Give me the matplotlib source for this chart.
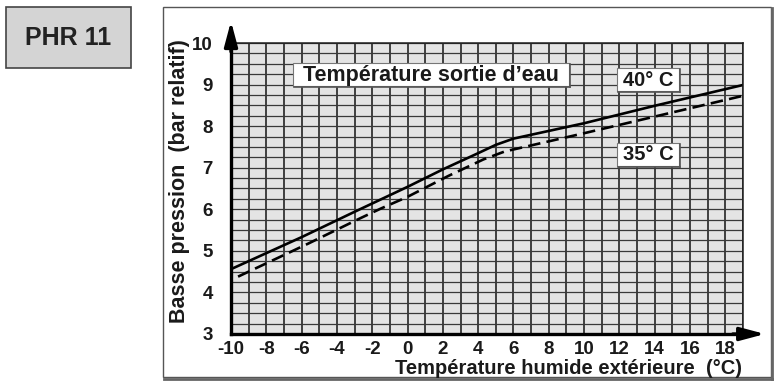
import matplotlib
matplotlib.use("Agg")
import matplotlib.pyplot as plt
import numpy as np
from matplotlib.patches import Rectangle

plt.rcParams['font.family'] = ['Liberation Sans', 'DejaVu Sans']
plt.rcParams['lines.scale_dashes'] = False
plt.rcParams['axes.unicode_minus'] = False

# Data
x_40 = [-10, -6, -3, 0, 2, 4, 5, 6, 10, 14, 19]
y_40 = [4.56, 5.33, 5.94, 6.54, 6.96, 7.35, 7.55, 7.70, 8.07, 8.49, 8.99]
x_35 = [-9.6, -5.6, -2.7, -1.5, 0, 2.3, 4.3, 5.5, 10, 14, 19]
y_35 = [4.38, 5.18, 5.78, 6.02, 6.30, 6.80, 7.20, 7.39, 7.83, 8.23, 8.73]

x_ticks = list(range(-10, 19, 2))
y_ticks = list(range(3, 11))
x_label = "Température humide extérieure  (°C)"
y_label = "Basse pression  (bar relatif)"
title_box = "Température sortie d’eau"
lab_40 = "40° C"
lab_35 = "35° C"
badge = "PHR 11"

W, H = 776, 384
fig = plt.figure(figsize=(W / 100, H / 100), dpi=100)
fig.patch.set_facecolor('white')

def fx(px):
    return px / W

def fy(py):
    return 1 - py / H

# Outer frame with shadow
frame = Rectangle((fx(163), fy(377)), fx(771) - fx(163), fy(7) - fy(377),
                  transform=fig.transFigure, fill=False, ec='#555555', lw=1.0)
fig.add_artist(frame)
fig.add_artist(plt.Line2D([fx(164), fx(772)], [fy(379), fy(379)], transform=fig.transFigure,
                          color='#666666', lw=2.0))
fig.add_artist(plt.Line2D([fx(772), fx(772)], [fy(8), fy(379)], transform=fig.transFigure,
                          color='#666666', lw=2.0))

# PHR badge
badge_rect = Rectangle((fx(6), fy(68)), fx(131) - fx(6), fy(7) - fy(68),
                       transform=fig.transFigure, fc='#d4d4d4', ec='#444444', lw=1.2)
fig.add_artist(badge_rect)
fig.text(fx(68), fy(38), badge, ha='center', va='center', fontsize=18,
         fontweight='bold', color='#222222')

ax = fig.add_axes([fx(231), fy(334), fx(743) - fx(231), fy(43) - fy(334)])
ax.set_facecolor('#e4e4e4')
ax.set_xlim(-10, 19)
ax.set_ylim(3, 10)

ax.set_xticks(x_ticks)
ax.set_xticks(np.arange(-10, 20, 1), minor=True)
ax.set_yticks(y_ticks)
ax.set_yticks(np.arange(3, 10.01, 0.25), minor=True)
ax.grid(which='both', axis='x', color='#141414', lw=1.1)
ax.grid(which='both', axis='y', color='#3a3a3a', lw=0.9)
ax.set_axisbelow(True)
ax.tick_params(which='both', length=0)
ax.tick_params(axis='x', pad=5, labelsize=13.5)
ax.tick_params(axis='y', pad=13, labelsize=13.5)
for t in ax.get_xticklabels() + ax.get_yticklabels():
    t.set_fontweight('bold')
    t.set_color('#1a1a1a')

for s in ['left', 'bottom']:
    ax.spines[s].set_linewidth(2.4)
    ax.spines[s].set_color('black')
for s in ['top', 'right']:
    ax.spines[s].set_linewidth(1.1)
    ax.spines[s].set_color('#1e1e1e')

ax.plot(x_40, y_40, color='black', lw=1.9, solid_joinstyle='round')
ax.plot(x_35, y_35, color='black', lw=1.9, dashes=(9, 4.5))

# arrows
ax.annotate('', xy=(0, 1.075), xytext=(0, 0.97), xycoords='axes fraction',
            arrowprops=dict(arrowstyle='-|>,head_length=1.5,head_width=0.4',
                            mutation_scale=10, lw=2.4, color='black',
                            shrinkA=0, shrinkB=0),
            annotation_clip=False)
ax.annotate('', xy=(1.043, 0), xytext=(0.98, 0), xycoords='axes fraction',
            arrowprops=dict(arrowstyle='-|>,head_length=1.5,head_width=0.4',
                            mutation_scale=10, lw=2.4, color='black',
                            shrinkA=0, shrinkB=0),
            annotation_clip=False)

def label_box(x0, y0, x1, y1, text, size):
    r = Rectangle((fx(x0), fy(y1)), fx(x1) - fx(x0), fy(y0) - fy(y1),
                  transform=fig.transFigure, fc='white', ec='#777777', lw=0.8, zorder=5)
    fig.add_artist(r)
    fig.add_artist(plt.Line2D([fx(x0 + 1), fx(x1 + 1)], [fy(y1 + 1), fy(y1 + 1)],
                              transform=fig.transFigure, color='#555555', lw=1.2, zorder=6))
    fig.add_artist(plt.Line2D([fx(x1 + 1), fx(x1 + 1)], [fy(y0 + 1), fy(y1 + 1)],
                              transform=fig.transFigure, color='#555555', lw=1.2, zorder=6))
    fig.text(fx((x0 + x1) / 2), fy((y0 + y1) / 2 + 0.5), text, ha='center', va='center',
             fontsize=size, fontweight='bold', color='#1a1a1a', zorder=7)

label_box(293, 63, 569, 86, title_box, 15.5)
label_box(617, 68, 679, 91, lab_40, 14.5)
label_box(617, 143, 679, 166, lab_35, 14.5)

fig.text(fx(742), fy(369), x_label, ha='right', va='center', fontsize=14.5,
         fontweight='bold', color='#1a1a1a')
fig.text(fx(179), fy(181), y_label, ha='center', va='center', rotation=90,
         fontsize=15.5, fontweight='bold', color='#1a1a1a')

fig.savefig('out.png', dpi=100)
